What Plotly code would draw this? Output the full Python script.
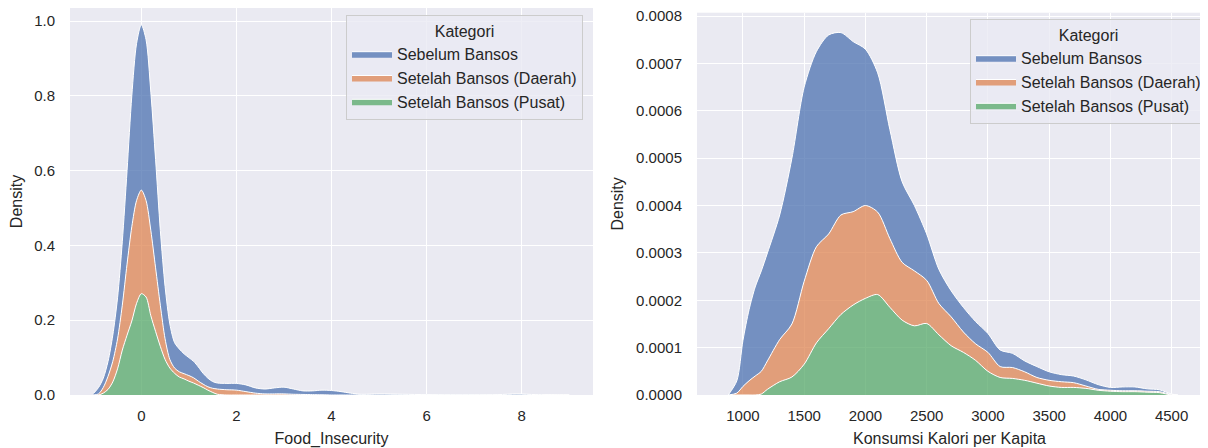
import plotly.graph_objects as go

# ---------------- data: left panel (Food_Insecurity) ----------------
food_x = [-1.0, -0.9, -0.8, -0.7, -0.6, -0.5, -0.4, -0.3, -0.2, -0.1, 0.0, 0.1, 0.2, 0.3, 0.4,
          0.5, 0.6, 0.7, 0.8, 0.9, 1.0, 1.1, 1.2, 1.3, 1.4, 1.5, 1.6, 1.8, 2.0, 2.2, 2.4, 2.6,
          2.8, 3.0, 3.2, 3.4, 3.6, 3.8, 4.0, 4.2, 4.4, 4.6, 5.0, 5.5, 6.0, 6.5, 7.0, 7.5, 7.9,
          8.3, 8.8, 9.0]
# stacked boundaries (top of each layer)
food_pusat = [0, 0, 0.005, 0.015, 0.035, 0.07, 0.12, 0.16, 0.198, 0.245, 0.271, 0.262, 0.212,
              0.17, 0.13, 0.095, 0.072, 0.058, 0.048, 0.043, 0.037, 0.032, 0.026, 0.02, 0.013,
              0.007, 0.002, 0, 0, 0, 0, 0, 0, 0, 0, 0, 0, 0, 0, 0, 0, 0, 0, 0, 0, 0, 0, 0, 0,
              0, 0, 0]
food_daerah = [0, 0.003, 0.02, 0.05, 0.09, 0.15, 0.24, 0.35, 0.45, 0.52, 0.548, 0.52, 0.44,
               0.34, 0.24, 0.15, 0.095, 0.072, 0.062, 0.057, 0.052, 0.046, 0.037, 0.029, 0.022,
               0.018, 0.016, 0.014, 0.013, 0.009, 0.005, 0.003, 0.003, 0.003, 0.002, 0.0015,
               0.001, 0.0005, 0, 0, 0, 0, 0, 0, 0, 0, 0, 0, 0, 0, 0, 0]
food_sebelum = [0.005, 0.02, 0.045, 0.09, 0.16, 0.26, 0.41, 0.60, 0.80, 0.94, 0.99, 0.95, 0.81,
                0.63, 0.44, 0.29, 0.19, 0.14, 0.123, 0.11, 0.1, 0.09, 0.075, 0.058, 0.045,
                0.036, 0.032, 0.031, 0.031, 0.027, 0.019, 0.016, 0.019, 0.021, 0.016, 0.011,
                0.011, 0.013, 0.012, 0.009, 0.005, 0.002, 0.003, 0.002, 0.001, 0.0005, 0.0005,
                0.001, 0.003, 0.001, 0.0, 0.0]

# ---------------- data: right panel (Konsumsi Kalori per Kapita) ----------------
kal_x = [880, 950, 1000, 1050, 1100, 1150, 1200, 1300, 1400, 1500, 1600, 1700, 1800, 1900,
         2000, 2100, 2200, 2300, 2400, 2500, 2600, 2700, 2800, 2900, 3000, 3100, 3200, 3300,
         3400, 3500, 3600, 3700, 3800, 3900, 4000, 4100, 4200, 4300, 4400, 4500, 4550]
kal_pusat = [0, 0, 0, 0, 0, 0.000002, 0.000012, 0.000028, 0.000038, 0.000065, 0.00011,
             0.00014, 0.00017, 0.00019, 0.000204, 0.000212, 0.000185, 0.000158, 0.000146,
             0.000151, 0.000127, 0.000104, 0.00009, 0.000073, 0.00005, 0.000037, 0.000035,
             0.000031, 0.000025, 0.000019, 0.000016, 0.000016, 0.000014, 0.00001, 0.000008,
             0.000007, 0.000007, 0.000006, 0.000005, 0.0, 0.0]
kal_daerah = [0, 0.000004, 0.000018, 0.00003, 0.00004, 0.00005, 0.000072, 0.000117, 0.00015,
              0.00024, 0.000313, 0.00034, 0.00038, 0.000387, 0.0004, 0.000386, 0.00033,
              0.00028, 0.000262, 0.000242, 0.000193, 0.000165, 0.000133, 0.000108, 0.00009,
              0.00006, 0.000058, 0.000049, 0.000037, 0.000031, 0.000028, 0.000026, 0.000019,
              0.000012, 0.00001, 0.000009, 0.000009, 0.000008, 0.000007, 0.000001, 0.0]
kal_sebelum = [0, 0.00003, 0.000115, 0.00018, 0.000228, 0.000262, 0.0003, 0.00038, 0.0005,
               0.00065, 0.000725, 0.00076, 0.000765, 0.000746, 0.00073, 0.00068, 0.00056,
               0.00045, 0.0004, 0.00034, 0.000265, 0.00022, 0.000185, 0.000155, 0.00013,
               0.000095, 0.000088, 0.000072, 0.00006, 0.000049, 0.000043, 0.00004, 0.000032,
               0.000022, 0.000016, 0.000017, 0.000017, 0.000013, 0.000011, 0.000002, 0.0]

categories = ["Setelah Bansos (Pusat)", "Setelah Bansos (Daerah)", "Sebelum Bansos"]
colors = ["rgba(85,168,104,0.75)", "rgba(221,132,82,0.75)", "rgba(76,114,176,0.75)"]

FONT = "Liberation Sans, Arial, sans-serif"
TXT = "#262626"

fig = go.Figure()

panels = [
    ("x", "y", "legend", food_x, [food_pusat, food_daerah, food_sebelum]),
    ("x2", "y2", "legend2", kal_x, [kal_pusat, kal_daerah, kal_sebelum]),
]
for xa, ya, lg, xs, series in panels:
    for i, (name, col, ys) in enumerate(zip(categories, colors, series)):
        fig.add_trace(go.Scatter(
            x=xs, y=ys, name=name, xaxis=xa, yaxis=ya, legend=lg,
            mode="lines", line=dict(color="white", width=1, shape="spline", smoothing=0.8),
            fill="tozeroy" if i == 0 else "tonexty", fillcolor=col,
            hoverinfo="skip",
        ))

# the page body has an 8px margin, so figure coords = page coords - 8
OFF = 8
W, H = 1200, 440
ml, mr, mt, mb = 0, 6, 0, 53
pw = W - ml - mr
ph = H - mt - mb

def px_x(p):
    return (p - OFF - ml) / pw

def px_y(p):
    return 1 - (p - OFF - mt) / ph

axis_common = dict(
    showgrid=True, gridcolor="white", gridwidth=1.2, zeroline=False, showline=False,
    ticks="", tickfont=dict(family=FONT, size=15, color=TXT), automargin=False,
    ticklabeloverflow="allow",
    title_font=dict(family=FONT, size=16, color=TXT),
)

legend_common = dict(
    bgcolor="rgba(234,234,242,0.8)", bordercolor="#CCCCCC", borderwidth=1,
    font=dict(family=FONT, size=16, color=TXT), traceorder="reversed",
    xanchor="left", yanchor="top", itemwidth=40,
    title=dict(text="Kategori", side="top center", font=dict(family=FONT, size=16, color=TXT)),
)

fig.update_layout(
    width=W, height=H,
    margin=dict(l=ml, r=mr, t=mt, b=mb),
    paper_bgcolor="white", plot_bgcolor="#EAEAF2",
    template="none",
    showlegend=True,
    xaxis=dict(axis_common, domain=[px_x(70), px_x(593)], range=[-1.5, 9.5],
               tickvals=[0, 2, 4, 6, 8], ticklabelstandoff=10,
               title=dict(text="Food_Insecurity", standoff=9), anchor="y"),
    yaxis=dict(axis_common, domain=[0, 1], range=[0, 1.035],
               tickvals=[0, 0.2, 0.4, 0.6, 0.8, 1.0], tickformat=".1f", ticklabelstandoff=14,
               title=dict(text="Density", standoff=8), anchor="x"),
    xaxis2=dict(axis_common, domain=[px_x(697), 1], range=[625, 4748],
                tickvals=[1000, 1500, 2000, 2500, 3000, 3500, 4000, 4500], ticklabelstandoff=10,
                title=dict(text="Konsumsi Kalori per Kapita", standoff=9), anchor="y2"),
    yaxis2=dict(axis_common, domain=[0, px_y(12.7)], range=[0, 0.000807],
                tickvals=[0, 0.0001, 0.0002, 0.0003, 0.0004, 0.0005, 0.0006, 0.0007, 0.0008],
                tickformat=".4f", ticklabelstandoff=14,
                title=dict(text="Density", standoff=8), anchor="x2"),
    legend=dict(legend_common, x=px_x(346), y=px_y(15)),
    legend2=dict(legend_common, x=px_x(970), y=px_y(19)),
)

fig.write_html("out.html")
